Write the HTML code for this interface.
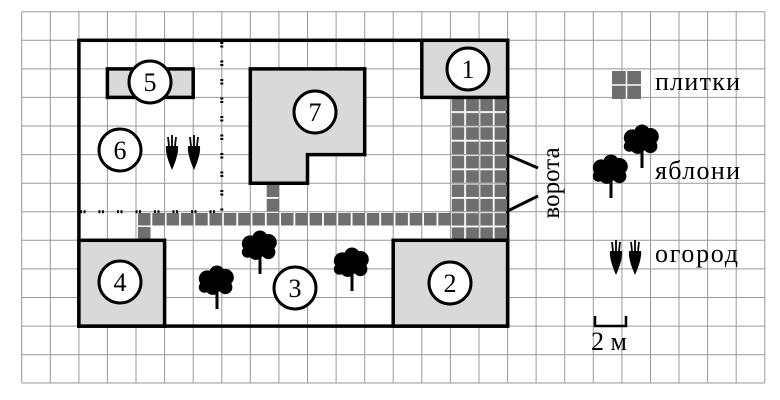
<!DOCTYPE html>
<html><head><meta charset="utf-8"><style>
html,body{margin:0;padding:0;background:#fff}
svg{display:block}
text{font-family:"Liberation Serif",serif;fill:#000}
</style></head><body>
<svg width="780" height="400" viewBox="0 0 780 400" xmlns="http://www.w3.org/2000/svg">
<defs>
<g id="tree">
<g transform="scale(1.4)">
<circle cx="-7" cy="-3" r="6"/><circle cx="6" cy="-4" r="6"/><circle cx="0" cy="-7" r="5.5"/><circle cx="-3" cy="3" r="5.5"/><circle cx="6" cy="3" r="5"/><circle cx="-9" cy="3" r="4"/><circle cx="1" cy="0" r="6"/>
</g>
<rect x="-1.5" y="2" width="3" height="24"/>
</g>
<g id="carrot">
<path d="M-6,-6 L6,-6 Q7,2 0,18 Q-7,2 -6,-6Z"/>
<path d="M0,-6 L0,-17 M-3,-6 L-4,-15 M3,-6 L4,-15" stroke="#000" stroke-width="1.8" fill="none"/>
</g>
</defs>
<g stroke="#999" stroke-width="1">
<line x1="21.7" y1="11.7" x2="21.7" y2="383"/><line x1="50.3" y1="11.7" x2="50.3" y2="383"/><line x1="78.9" y1="11.7" x2="78.9" y2="383"/><line x1="107.4" y1="11.7" x2="107.4" y2="383"/><line x1="136" y1="11.7" x2="136" y2="383"/><line x1="164.6" y1="11.7" x2="164.6" y2="383"/><line x1="193.2" y1="11.7" x2="193.2" y2="383"/><line x1="221.8" y1="11.7" x2="221.8" y2="383"/><line x1="250.3" y1="11.7" x2="250.3" y2="383"/><line x1="278.9" y1="11.7" x2="278.9" y2="383"/><line x1="307.5" y1="11.7" x2="307.5" y2="383"/><line x1="336.1" y1="11.7" x2="336.1" y2="383"/><line x1="364.7" y1="11.7" x2="364.7" y2="383"/><line x1="393.2" y1="11.7" x2="393.2" y2="383"/><line x1="421.8" y1="11.7" x2="421.8" y2="383"/><line x1="450.4" y1="11.7" x2="450.4" y2="383"/><line x1="479" y1="11.7" x2="479" y2="383"/><line x1="507.6" y1="11.7" x2="507.6" y2="383"/><line x1="536.1" y1="11.7" x2="536.1" y2="383"/><line x1="564.7" y1="11.7" x2="564.7" y2="383"/><line x1="593.3" y1="11.7" x2="593.3" y2="383"/><line x1="621.9" y1="11.7" x2="621.9" y2="383"/><line x1="650.5" y1="11.7" x2="650.5" y2="383"/><line x1="679" y1="11.7" x2="679" y2="383"/><line x1="707.6" y1="11.7" x2="707.6" y2="383"/><line x1="736.2" y1="11.7" x2="736.2" y2="383"/><line x1="764.8" y1="11.7" x2="764.8" y2="383"/>
<line x1="21.7" y1="11.7" x2="764.8" y2="11.7"/><line x1="21.7" y1="40.3" x2="764.8" y2="40.3"/><line x1="21.7" y1="68.9" x2="764.8" y2="68.9"/><line x1="21.7" y1="97.4" x2="764.8" y2="97.4"/><line x1="21.7" y1="126" x2="764.8" y2="126"/><line x1="21.7" y1="154.6" x2="764.8" y2="154.6"/><line x1="21.7" y1="183.2" x2="764.8" y2="183.2"/><line x1="21.7" y1="211.8" x2="764.8" y2="211.8"/><line x1="21.7" y1="240.3" x2="764.8" y2="240.3"/><line x1="21.7" y1="268.9" x2="764.8" y2="268.9"/><line x1="21.7" y1="297.5" x2="764.8" y2="297.5"/><line x1="21.7" y1="326.1" x2="764.8" y2="326.1"/><line x1="21.7" y1="354.7" x2="764.8" y2="354.7"/><line x1="21.7" y1="383" x2="764.8" y2="383"/>
</g>
<rect x="78.9" y="40.3" width="428.7" height="285.8" fill="none" stroke="#000" stroke-width="3.5"/>
<g stroke="#000" stroke-width="3" stroke-dasharray="2,1.5,2,13" fill="none">
<line x1="221.8" y1="42" x2="221.8" y2="211.8"/>
<line x1="80" y1="211.8" x2="221.8" y2="211.8"/>
</g>
<g fill="#6f6f6f">
<rect x="138" y="213" width="12.5" height="12.5"/><rect x="152.3" y="213" width="12.5" height="12.5"/><rect x="166.6" y="213" width="12.5" height="12.5"/><rect x="180.9" y="213" width="12.5" height="12.5"/><rect x="195.2" y="213" width="12.5" height="12.5"/><rect x="209.5" y="213" width="12.5" height="12.5"/><rect x="223.8" y="213" width="12.5" height="12.5"/><rect x="238.1" y="213" width="12.5" height="12.5"/><rect x="252.4" y="213" width="12.5" height="12.5"/><rect x="266.7" y="213" width="12.5" height="12.5"/><rect x="281" y="213" width="12.5" height="12.5"/><rect x="295.3" y="213" width="12.5" height="12.5"/><rect x="309.6" y="213" width="12.5" height="12.5"/><rect x="323.9" y="213" width="12.5" height="12.5"/><rect x="338.2" y="213" width="12.5" height="12.5"/><rect x="352.5" y="213" width="12.5" height="12.5"/><rect x="366.8" y="213" width="12.5" height="12.5"/><rect x="381.1" y="213" width="12.5" height="12.5"/><rect x="395.4" y="213" width="12.5" height="12.5"/><rect x="409.7" y="213" width="12.5" height="12.5"/><rect x="424" y="213" width="12.5" height="12.5"/><rect x="438.3" y="213" width="12.5" height="12.5"/>
<rect x="138" y="227" width="12.5" height="13"/>
<rect x="266.7" y="184.5" width="12.5" height="12.5"/><rect x="266.7" y="198.8" width="12.5" height="12.5"/>
</g>
<svg x="450.4" y="97.4" width="57.2" height="143" overflow="hidden">
<defs><pattern id="tp" width="14.3" height="14.3" patternUnits="userSpaceOnUse"><rect x="1.3" y="1.3" width="12.5" height="12.5" fill="#6f6f6f"/></pattern></defs>
<rect width="57.2" height="143" fill="url(#tp)"/>
</svg>
<g fill="#d9d9d9" stroke="#000" stroke-width="3.5">
<rect x="107.4" y="68.9" width="85.8" height="28.5"/>
<path d="M250.3,68.9 H364.7 V154.6 H307.5 V183.2 H250.3 Z"/>
<rect x="421.8" y="40.3" width="85.8" height="57.1"/>
<rect x="78.9" y="240.3" width="85.7" height="85.8"/>
<rect x="393.2" y="240.3" width="114.4" height="85.8"/>
</g>
<g stroke="#000" stroke-width="3">
<line x1="507.6" y1="155" x2="538" y2="168"/>
<line x1="507.6" y1="211" x2="538" y2="196"/>
</g>
<text transform="translate(559,183) rotate(-90)" font-size="25" text-anchor="middle">ворота</text>
<g fill="#fff" stroke="#000" stroke-width="3">
<circle cx="150" cy="82" r="21"/><circle cx="120" cy="150" r="21"/><circle cx="315" cy="112" r="21"/><circle cx="468" cy="69" r="21"/><circle cx="120" cy="282" r="21"/><circle cx="450" cy="283" r="21"/><circle cx="295" cy="288" r="21"/>
</g>
<g font-size="26" text-anchor="middle">
<text x="150" y="91">5</text><text x="120" y="159">6</text><text x="315" y="121">7</text><text x="468" y="78">1</text><text x="120" y="291">4</text><text x="450" y="292">2</text><text x="295" y="297">3</text>
</g>
<use href="#tree" x="260" y="248"/><use href="#tree" x="217" y="283"/><use href="#tree" x="352" y="265"/>
<use href="#tree" x="611" y="172"/><use href="#tree" x="642" y="142"/>
<use href="#carrot" x="172" y="152"/><use href="#carrot" x="194" y="152"/>
<use href="#carrot" x="616" y="257"/><use href="#carrot" x="635" y="257"/>
<rect x="612" y="71" width="29" height="28" fill="#6f6f6f"/>
<line x1="626.5" y1="71" x2="626.5" y2="99" stroke="#fff" stroke-width="1.5"/>
<line x1="612" y1="85" x2="641" y2="85" stroke="#fff" stroke-width="1.5"/>
<g font-size="26">
<text x="655" y="90" textLength="85">плитки</text>
<text x="655" y="179" textLength="85">яблони</text>
<text x="655" y="262" textLength="83">огород</text>
<text x="591" y="350">2 м</text>
</g>
<path d="M595,316 V326 H626 V316" fill="none" stroke="#000" stroke-width="2.5"/>
</svg>
</body></html>
